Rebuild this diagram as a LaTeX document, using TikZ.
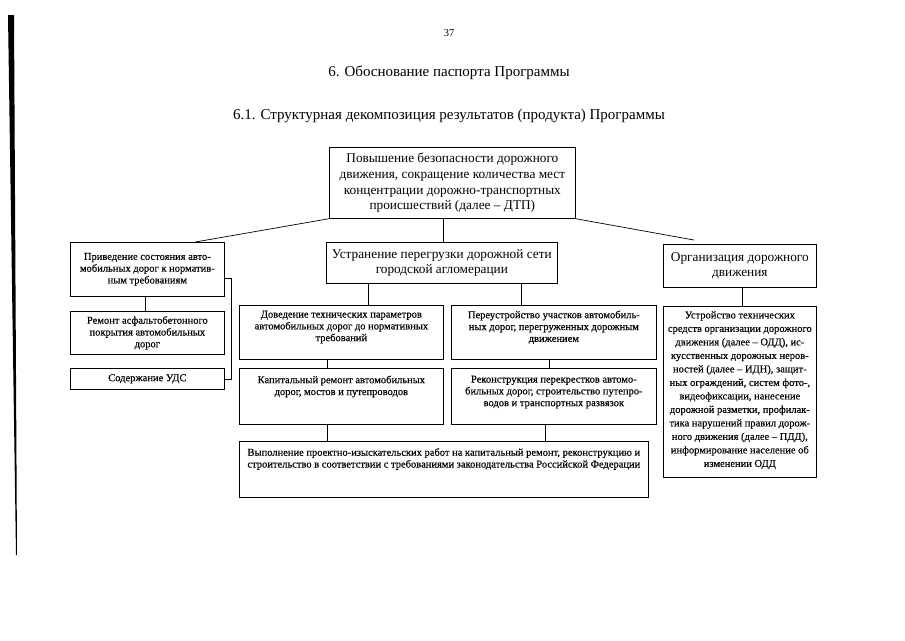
\documentclass[tikz,border=0pt]{standalone}
\usepackage{fontspec}
\setmainfont{Liberation Serif}
\newfontfamily\scanfont{Liberation Serif}[FakeBold=0.35]
\begin{document}
\begin{tikzpicture}[x=1pt,y=-1pt,
  box/.style={draw, line width=0.7pt, inner sep=0pt, anchor=north west, align=center},
  big/.style={font=\fontsize{13.3}{15.7}\selectfont},
  small/.style={font=\scanfont\fontsize{10.5}{11.8}\selectfont},
  txt/.style={inner sep=0pt, align=center, anchor=north, font=\scanfont\fontsize{10.5}{11.8}\selectfont},
  link/.style={line width=0.7pt}]
\useasboundingbox (0,0) rectangle (905,640);
% scan margin bar
\fill[black] (8,15) -- (14,15) -- (17,555) -- (16,555) -- cycle;
% headings
\node[font=\fontsize{10.5}{12}\selectfont] (pnum) at (449,33) {37};
\node[font=\fontsize{15}{17}\selectfont] (title) at (449,73) {6. Обоснование паспорта Программы};
\node[font=\fontsize{15}{17}\selectfont] (subtitle) at (449,116) {6.1. Структурная декомпозиция результатов (продукта) Программы};
% boxes
\node[box, big, minimum width=246pt, minimum height=71pt] (top) at (329,147)
  {Повышение безопасности дорожного\\движения, сокращение количества мест\\концентрации дорожно-транспортных\\происшествий (далее – ДТП)};
\node[box, small, minimum width=154pt, minimum height=54pt] (L1) at (70,242)
  {Приведение состояния авто-\\мобильных дорог к норматив-\\ным требованиям};
\node[box, big, minimum width=231pt, minimum height=41pt] (M) at (326,242)
  {Устранение перегрузки дорожной сети\\городской агломерации};
\node[box, big, minimum width=153pt, minimum height=43pt] (R) at (663,244)
  {Организация дорожного\\движения};
\node[box, small, minimum width=154pt, minimum height=43pt] (L2) at (70,311)
  {Ремонт асфальтобетонного\\покрытия автомобильных\\дорог};
\node[box, small, minimum width=154pt, minimum height=21pt] (L3) at (70,368)
  {Содержание УДС};
\node[box, minimum width=204pt, minimum height=54pt] (D) at (239,305) {};
\node[txt] (Dt) at ([yshift=-5.5pt]D.north)
  {Доведение технических параметров\\автомобильных дорог до нормативных\\требований};
\node[box, minimum width=205pt, minimum height=54pt] (P) at (451,305) {};
\node[txt] (Pt) at ([yshift=-5.5pt]P.north)
  {Переустройство участков автомобиль-\\ных дорог, перегруженных дорожным\\движением};
\node[box, minimum width=204pt, minimum height=56pt] (K) at (239,368) {};
\node[txt] (Kt) at ([yshift=-7.5pt]K.north)
  {Капитальный ремонт автомобильных\\дорог, мостов и путепроводов};
\node[box, minimum width=205pt, minimum height=56pt] (Rk) at (451,368) {};
\node[txt] (Rkt) at ([yshift=-7.5pt]Rk.north)
  {Реконструкция перекрестков автомо-\\бильных дорог, строительство путепро-\\водов и транспортных развязок};
\node[box, minimum width=409pt, minimum height=56pt] (B) at (239,441) {};
\node[txt] (Bt) at ([yshift=-7pt]B.north)
  {Выполнение проектно-изыскательских работ на капитальный ремонт, реконструкцию и\\строительство в соответствии с требованиями законодательства Российской Федерации};
\node[box, minimum width=153pt, minimum height=171pt] (U) at (663,306) {};
\node[txt, font=\scanfont\fontsize{10.5}{13.5}\selectfont] (Ut) at ([yshift=-5pt]U.north)
  {Устройство технических\\средств организации дорожного\\движения (далее – ОДД), ис-\\кусственных дорожных неров-\\ностей (далее – ИДН), защит-\\ных ограждений, систем фото-,\\видеофиксации, нанесение\\дорожной разметки, профилак-\\тика нарушений правил дорож-\\ного движения (далее – ПДД),\\информирование население об\\изменении ОДД};
% x positions of vertical links
\coordinate (xTM) at (443,0);
\coordinate (xL) at (145,0);
\coordinate (xMD) at (368,0);
\coordinate (xMP) at (521,0);
\coordinate (xRU) at (742,0);
\coordinate (xDK) at (327,0);
\coordinate (xPR) at (549,0);
\coordinate (xKB) at (327,0);
\coordinate (xRB) at (545,0);
% links
\draw[link] (top.south west) -- ([xshift=48pt]L1.north);
\draw[link] (top.south east) -- ([xshift=-46pt,yshift=4pt]R.north);
\draw[link] (top.south -| xTM) -- (M.north -| xTM);
\draw[link] (L1.south -| xL) -- (L2.north -| xL);
\draw[link] ([yshift=-9pt]L1.east) -- ++(7,0) |- (L3.east);
\draw[link] (M.south -| xMD) -- (D.north -| xMD);
\draw[link] (M.south -| xMP) -- (P.north -| xMP);
\draw[link] (R.south -| xRU) -- (U.north -| xRU);
\draw[link] (D.south -| xDK) -- (K.north -| xDK);
\draw[link] (P.south -| xPR) -- (Rk.north -| xPR);
\draw[link] (K.south -| xKB) -- (B.north -| xKB);
\draw[link] (Rk.south -| xRB) -- (B.north -| xRB);
\end{tikzpicture}
\end{document}
